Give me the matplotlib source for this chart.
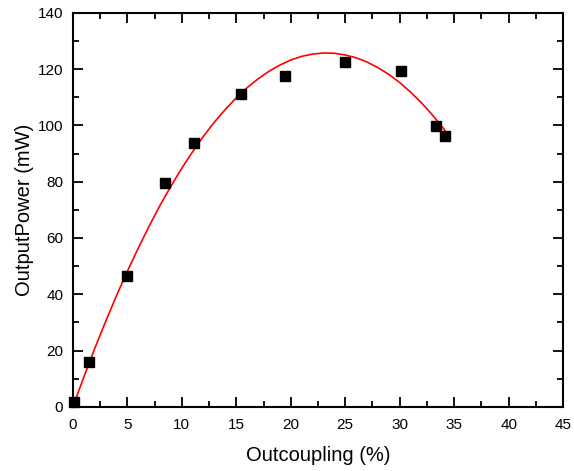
import numpy as np
import matplotlib.pyplot as plt
from matplotlib.ticker import MultipleLocator

# measured points
outcoupling = [0.12, 1.5, 5.0, 8.44, 11.08, 15.42, 19.46, 24.97, 30.1, 33.3, 34.2]
power = [1.9, 16.1, 46.4, 79.7, 93.6, 111.2, 117.5, 122.5, 119.4, 99.9, 96.2]

# fit curve
fit_x = [0, 1, 2, 3, 4, 5, 6, 7, 8, 9, 10, 11, 12, 13, 14, 15, 16, 17, 18,
         19, 20, 21, 22, 23, 24, 25, 26, 27, 28, 29, 30, 31, 32, 33, 34, 34.3]
fit_y = [0, 10.6, 20.7, 30.3, 39.5, 48.2, 56.4, 64.2, 71.6, 78.4, 84.8,
         90.7, 96.2, 101.2, 105.7, 109.8, 113.4, 116.5, 119.2, 121.4, 123.2,
         124.5, 125.3, 125.7, 125.6, 125.0, 124.0, 122.5, 120.5, 118.1,
         115.2, 111.8, 108.0, 103.7, 99.0, 97.4]

plt.rcParams['font.family'] = ['Liberation Sans', 'DejaVu Sans']

fig = plt.figure(figsize=(5.74, 4.71), dpi=100)
ax = fig.add_axes([0.127, 0.136, 0.854, 0.837])

ax.plot(fit_x, fit_y, color='red', linewidth=1.2, zorder=2)
ax.plot(outcoupling, power, linestyle='none', marker='s', markersize=7,
        color='black', zorder=3, clip_on=False)

ax.set_xlim(0, 45)
ax.set_ylim(0, 140)
ax.xaxis.set_major_locator(MultipleLocator(5))
ax.xaxis.set_minor_locator(MultipleLocator(2.5))
ax.yaxis.set_major_locator(MultipleLocator(20))
ax.yaxis.set_minor_locator(MultipleLocator(10))

ax.tick_params(which='both', direction='in', top=True, right=True,
               width=1.3, labelsize=11, colors='black')
ax.tick_params(which='major', length=7)
ax.tick_params(which='minor', length=4)
ax.tick_params(axis='x', which='major', pad=8)
ax.tick_params(axis='y', which='major', pad=7)
for s in ax.spines.values():
    s.set_linewidth(1.5)

ax.set_xlabel('Outcoupling (%)', fontsize=14.5, labelpad=10)
ax.set_ylabel('OutputPower (mW)', fontsize=14.5, labelpad=3)

fig.savefig('out.png', dpi=100)
